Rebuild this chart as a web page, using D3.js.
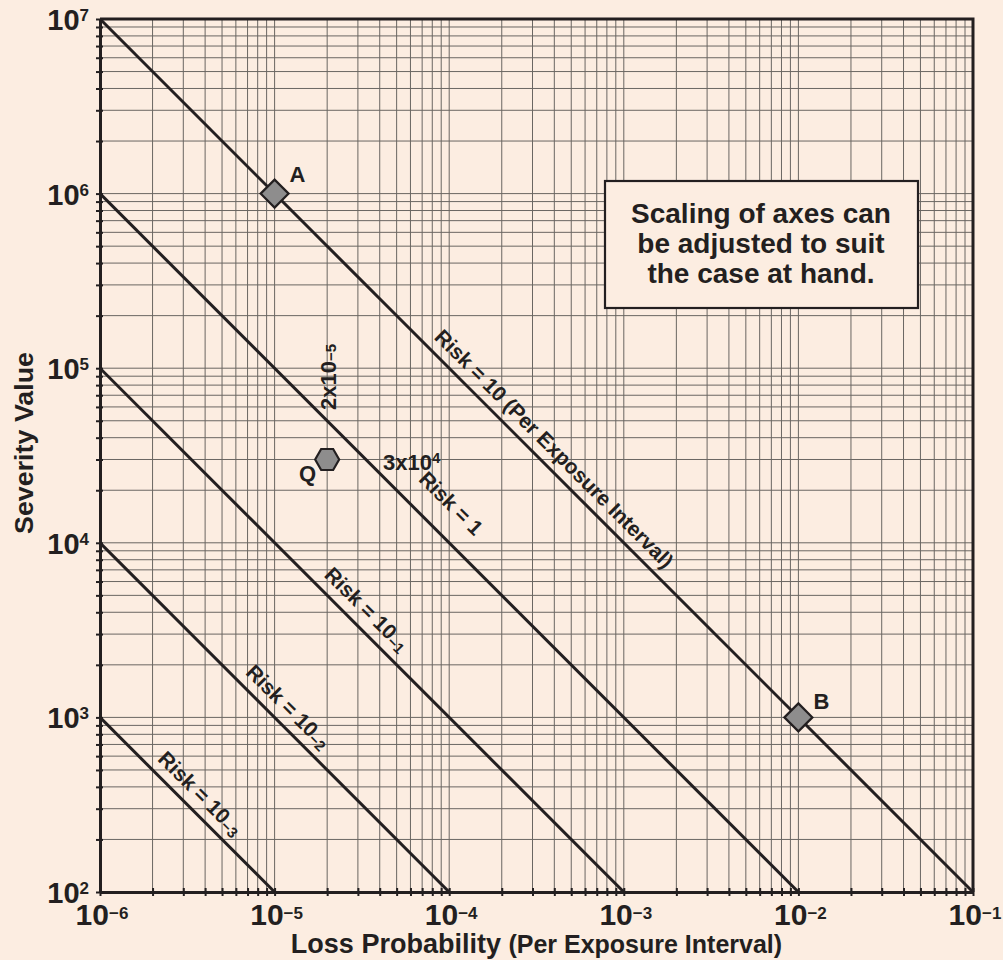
<!DOCTYPE html>
<html>
<head>
<meta charset="utf-8">
<script src="https://cdn.jsdelivr.net/npm/d3@7"></script>
<style>
  body { margin: 0; background: #fcede1; }
  text { fill: #231f20; font-family: "Liberation Sans", Arial, sans-serif; }
  .narrow { font-family: "Liberation Sans Narrow", "Arial Narrow", "Liberation Sans", sans-serif; font-stretch: condensed; }
</style>
</head>
<body>
<svg width="1003" height="960"></svg>
<script>
// axis decades (powers of ten)
const xExponents = [-6, -5, -4, -3, -2, -1];
const yExponents = [2, 3, 4, 5, 6, 7];

// iso-risk lines: risk = probability * severity
const riskValues = [10, 1, 0.1, 0.01, 0.001];
const riskText = ["Risk = 10 (Per Exposure Interval)", "Risk = 1", "Risk = 10", "Risk = 10", "Risk = 10"];
const riskExp = ["", "", "−1", "−2", "−3"];
const riskLabelP = [3.4e-4, 7.8e-5, 2.85e-5, 1.02e-5, 3.2e-6]; // where the label sits along each line

// plotted cases
const pointNames = ["A", "B", "Q"];
const pointP = [1e-5, 1e-2, 2e-5];
const pointS = [1e6, 1e3, 3e4];
const pointShape = ["diamond", "diamond", "hexagon"];

const noteLines = ["Scaling of axes can", "be adjusted to suit", "the case at hand."];

const ink = "#231f20",
  mLeft = 100,
  mRight = 973,
  mTop = 19,
  mBottom = 892;

// distance of each risk label above its line (px)
const labelLift = [10, 22, 11, 10, 10];

const svg = d3.select("svg");

const x = d3.scaleLog().domain([10 ** xExponents[0], 10 ** xExponents[xExponents.length - 1]]).range([mLeft, mRight]);
const y = d3.scaleLog().domain([10 ** yExponents[0], 10 ** yExponents[yExponents.length - 1]]).range([mBottom, mTop]);

// grid
const grid = svg.append("g").attr("stroke", "#6a6662").attr("stroke-width", 1);
grid.selectAll(".vx")
  .data(x.ticks())
  .enter()
  .append("line")
  .attr("x1", (d) => x(d))
  .attr("x2", (d) => x(d))
  .attr("y1", mTop)
  .attr("y2", mBottom);
grid.selectAll(".hy")
  .data(y.ticks())
  .enter()
  .append("line")
  .attr("y1", (d) => y(d))
  .attr("y2", (d) => y(d))
  .attr("x1", mLeft)
  .attr("x2", mRight);

// note box
const box = svg.append("g");
box.append("rect")
  .attr("x", 605)
  .attr("y", 181)
  .attr("width", 313)
  .attr("height", 127)
  .attr("fill", "#fcede1")
  .attr("stroke", ink)
  .attr("stroke-width", 2.2);
box.selectAll("text")
  .data(noteLines)
  .enter()
  .append("text")
  .attr("x", 761)
  .attr("y", (d, i) => 223 + i * 30)
  .attr("text-anchor", "middle")
  .attr("font-size", 28)
  .attr("font-weight", "bold")
  .text((d) => d);

// risk lines
svg.append("clipPath").attr("id", "plot")
  .append("rect").attr("x", mLeft).attr("y", mTop).attr("width", mRight - mLeft).attr("height", mBottom - mTop);

const line = d3.line().x((d) => x(d[0])).y((d) => y(d[1]));
svg.append("g")
  .attr("clip-path", "url(#plot)")
  .selectAll("path")
  .data(riskValues)
  .enter()
  .append("path")
  .attr("d", (r) => {
    const p0 = Math.max(x.domain()[0], r / y.domain()[1]);
    const p1 = Math.min(x.domain()[1], r / y.domain()[0]);
    return line([[p0, r / p0], [p1, r / p1]]);
  })
  .attr("fill", "none")
  .attr("stroke", ink)
  .attr("stroke-width", 3);

// risk labels
riskValues.forEach((r, i) => {
  const p = riskLabelP[i];
  const angle = (Math.atan2(y(r / 10) - y(r), x(10) - x(1)) * 180) / Math.PI;
  const t = svg.append("text")
    .attr("class", "narrow")
    .attr("transform", `translate(${x(p)},${y(r / p)}) rotate(${angle})`)
    .attr("text-anchor", "middle")
    .attr("dy", -labelLift[i])
    .attr("font-size", 21)
    .attr("font-weight", "bold");
  t.append("tspan").text(riskText[i]);
  if (riskExp[i]) t.append("tspan").attr("font-size", 15).attr("dy", 3).text(riskExp[i]);
});

const q = 2;
svg.append("text")
  .attr("class", "narrow")
  .attr("transform", `translate(${x(pointP[q]) + 9},${377}) rotate(-90)`)
  .attr("text-anchor", "middle")
  .attr("font-size", 22)
  .attr("font-weight", "bold")
  .call((t) => {
    t.append("tspan").text("2x10");
    t.append("tspan").attr("font-size", 15).text("−5");
  });
svg.append("text")
  .attr("class", "narrow")
  .attr("x", 383)
  .attr("y", y(pointS[q]) + 11)
  .attr("font-size", 22)
  .attr("font-weight", "bold")
  .call((t) => {
    t.append("tspan").text("3x10");
    t.append("tspan").attr("font-size", 15).attr("dy", -7).text("4");
  });

// markers
const shapes = {
  diamond: [[-14, 0], [0, -14], [14, 0], [0, 14]],
  hexagon: [[-12, 0], [-6, -10.5], [6, -10.5], [12, 0], [6, 10.5], [-6, 10.5]],
};
const marks = svg.append("g")
  .selectAll("g")
  .data(pointNames)
  .enter()
  .append("g")
  .attr("transform", (d, i) => `translate(${x(pointP[i])},${y(pointS[i])})`);
marks.append("path")
  .attr("d", (d, i) => "M" + shapes[pointShape[i]].join("L") + "Z")
  .attr("fill", "#8e8d8d")
  .attr("stroke", ink)
  .attr("stroke-width", 2.2);
marks.append("text")
  .attr("x", (d) => (d === "Q" ? -11 : 15))
  .attr("y", (d) => (d === "Q" ? 22 : d === "A" ? -12 : -8))
  .attr("text-anchor", (d) => (d === "Q" ? "end" : "start"))
  .attr("font-size", 22)
  .attr("font-weight", "bold")
  .text((d) => d);

// axes
const xAxis = svg.append("g")
  .attr("transform", `translate(0,${mBottom})`)
  .call(d3.axisBottom(x).tickValues(x.ticks()).tickFormat("").tickSize(4).tickSizeOuter(0));
xAxis.select(".domain").attr("stroke", ink).attr("stroke-width", 3);
xAxis.selectAll(".tick line").attr("y1", -4).attr("stroke", ink).attr("stroke-width", 2);

const yAxis = svg.append("g")
  .attr("transform", `translate(${mLeft},0)`)
  .call(d3.axisLeft(y).tickValues(y.ticks()).tickFormat("").tickSize(4).tickSizeOuter(0));
yAxis.select(".domain").attr("stroke", ink).attr("stroke-width", 3);
yAxis.selectAll(".tick line").attr("x1", 3).attr("stroke", ink).attr("stroke-width", 2);

// top and right frame
svg.append("path")
  .attr("d", `M${mLeft},${mTop}H${mRight}V${mBottom}`)
  .attr("fill", "none")
  .attr("stroke", ink)
  .attr("stroke-width", 3);

// tick labels
svg.append("g")
  .selectAll("text")
  .data(xExponents)
  .enter()
  .append("text")
  .attr("x", (e) => x(10 ** e) + 2)
  .attr("y", mBottom + 33)
  .attr("text-anchor", "middle")
  .attr("font-size", 30)
  .attr("font-weight", "bold")
  .each(function (e) {
    const t = d3.select(this);
    t.append("tspan").text("10");
    t.append("tspan").attr("font-size", 17).attr("dy", -6).text("−" + Math.abs(e));
  });

svg.append("g")
  .selectAll("text")
  .data(yExponents)
  .enter()
  .append("text")
  .attr("x", 89)
  .attr("y", (e) => y(10 ** e) + 11)
  .attr("text-anchor", "end")
  .attr("font-size", 29)
  .attr("font-weight", "bold")
  .each(function (e) {
    const t = d3.select(this);
    t.append("tspan").text("10");
    t.append("tspan").attr("font-size", 17).attr("dy", -9).text(e);
  });

// axis titles
svg.append("text")
  .attr("x", (mLeft + mRight) / 2)
  .attr("y", 953)
  .attr("text-anchor", "middle")
  .attr("font-size", 27)
  .attr("font-weight", "bold")
  .call((t) => {
    t.append("tspan").text("Loss Probability ");
    t.append("tspan").attr("class", "narrow").attr("font-size", 25).text("(Per Exposure Interval)");
  });

svg.append("text")
  .attr("transform", `translate(33,${443}) rotate(-90)`)
  .attr("text-anchor", "middle")
  .attr("font-size", 26)
  .attr("font-weight", "bold")
  .attr("textLength", 182)
  .attr("lengthAdjust", "spacingAndGlyphs")
  .text("Severity Value");
</script>
</body>
</html>
